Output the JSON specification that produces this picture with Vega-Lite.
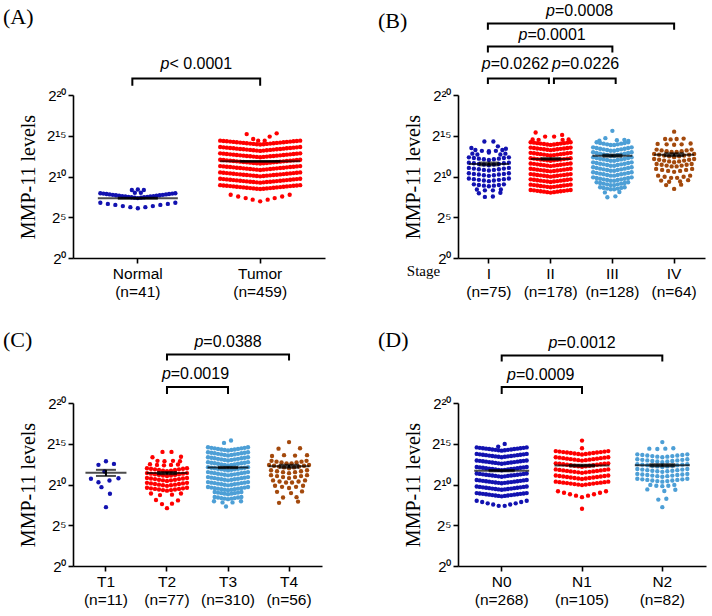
{
"$schema":"https://vega.github.io/schema/vega-lite/v6.json",
"background":"white",
"autosize":{"type":"pad"},
"padding":{"left":3,"top":2,"right":4,"bottom":4},
"bounds":"flush",
"columns":2,
"spacing":{"row":145,"column":133},
"resolve":{"scale":{"color":"independent","xOffset":"independent"}},
"datasets":{
"mA":[{"g":"N","m":7.33,"lo":7.27,"hi":7.39},{"g":"T","m":11.86,"lo":11.81,"hi":11.91}],
"bA":[{"b":1,"k":1,"g":"N","o":-1.1,"y":21.14},{"b":1,"k":2,"g":"N","o":-1.1,"y":22.03},{"b":1,"k":3,"g":"T","o":0,"y":22.03},{"b":1,"k":4,"g":"T","o":0,"y":21.14}],
"tA":[{"g":"N","o":11.7,"ty":23.2,"t":"< 0.0001"}],
"mB":[{"g":"I","m":11.54,"lo":11.37,"hi":11.71},{"g":"II","m":12.16,"lo":12.06,"hi":12.26},{"g":"III","m":12.56,"lo":12.44,"hi":12.68},{"g":"IV","m":12.68,"lo":12.51,"hi":12.85}],
"bB":[{"b":1,"k":1,"g":"I","o":-0.2,"y":21.34},{"b":1,"k":2,"g":"I","o":-0.2,"y":22.03},{"b":1,"k":3,"g":"II","o":-0.34,"y":22.03},{"b":1,"k":4,"g":"II","o":-0.34,"y":21.34},
{"b":2,"k":1,"g":"II","o":0.66,"y":21.34},{"b":2,"k":2,"g":"II","o":0.66,"y":22.03},{"b":2,"k":3,"g":"III","o":0.66,"y":22.03},{"b":2,"k":4,"g":"III","o":0.66,"y":21.34},
{"b":3,"k":1,"g":"I","o":-0.2,"y":25.2},{"b":3,"k":2,"g":"I","o":-0.2,"y":25.96},{"b":3,"k":3,"g":"III","o":0,"y":25.96},{"b":3,"k":4,"g":"III","o":0,"y":25.2},
{"b":4,"k":1,"g":"I","o":-0.2,"y":28.02},{"b":4,"k":2,"g":"I","o":-0.2,"y":28.77},{"b":4,"k":3,"g":"IV","o":0,"y":28.77},{"b":4,"k":4,"g":"IV","o":0,"y":28.02}],
"tB":[{"g":"I","o":5.3,"ty":23.2,"t":"=0.0262"},{"g":"II","o":7,"ty":23.2,"t":"=0.0226"},{"g":"II","o":0.3,"ty":26.8,"t":"=0.0001"},{"g":"II","o":5.8,"ty":29.7,"t":"=0.0008"}],
"mC":[{"g":"T1","m":11.43,"lo":11.05,"hi":11.8},{"g":"T2","m":11.4,"lo":11.27,"hi":11.53},{"g":"T3","m":12.08,"lo":12,"hi":12.16},{"g":"T4","m":12.24,"lo":12.06,"hi":12.42}],
"bC":[{"b":1,"k":1,"g":"T2","o":0,"y":21.1},{"b":1,"k":2,"g":"T2","o":0,"y":21.96},{"b":1,"k":3,"g":"T3","o":0,"y":21.96},{"b":1,"k":4,"g":"T3","o":0,"y":21.1},
{"b":2,"k":1,"g":"T2","o":0,"y":25.2},{"b":2,"k":2,"g":"T2","o":0,"y":25.95},{"b":2,"k":3,"g":"T4","o":0,"y":25.95},{"b":2,"k":4,"g":"T4","o":0,"y":25.2}],
"tC":[{"g":"T2","o":5.7,"ty":22.9,"t":"=0.0019"},{"g":"T3","o":0,"ty":26.9,"t":"=0.0388"}],
"mD":[{"g":"N0","m":11.7,"lo":11.62,"hi":11.78},{"g":"N1","m":12.32,"lo":12.22,"hi":12.42},{"g":"N2","m":12.36,"lo":12.23,"hi":12.49}],
"bD":[{"b":1,"k":1,"g":"N0","o":0,"y":21.1},{"b":1,"k":2,"g":"N0","o":0,"y":21.96},{"b":1,"k":3,"g":"N1","o":0,"y":21.96},{"b":1,"k":4,"g":"N1","o":0,"y":21.1},
{"b":2,"k":1,"g":"N0","o":0,"y":25.1},{"b":2,"k":2,"g":"N0","o":0,"y":25.83},{"b":2,"k":3,"g":"N2","o":0,"y":25.83},{"b":2,"k":4,"g":"N2","o":0,"y":25.1}],
"tD":[{"g":"N0","o":7.8,"ty":22.8,"t":"=0.0009"},{"g":"N1","o":0,"ty":26.8,"t":"=0.0012"}]
},
"concat":[
{
"width":252,"height":163,
"title":{"text":"(A)","dx":-70,"dy":-23},
"data":{"values":"g,o,y\nN,0,6.1\nN,-1.5,6.24\nN,1.5,6.24\nN,-3,6.37\nN,3,6.37\nN,-4.5,6.51\nN,4.5,6.51\nN,-6,6.64\nN,6,6.64\nN,-7.5,6.78\nN,7.5,6.78\nN,0,7.35\nN,-0.63,7.4\nN,0.63,7.4\nN,-1.25,7.45\nN,1.25,7.45\nN,-1.88,7.5\nN,1.88,7.5\nN,-2.5,7.55\nN,2.5,7.55\nN,-3.13,7.6\nN,3.13,7.6\nN,-3.75,7.65\nN,3.75,7.65\nN,-4.38,7.7\nN,4.38,7.7\nN,-5,7.75\nN,5,7.75\nN,-5.63,7.8\nN,5.63,7.8\nN,-6.25,7.85\nN,6.25,7.85\nN,-6.88,7.9\nN,6.88,7.9\nN,-7.5,7.95\nN,7.5,7.95\nN,-1.2,8.35\nN,0,8.4\nN,1.2,8.35\nN,-0.6,8\nN,0.6,8\nT,-2.7,15.2\nT,3.3,15.3\nT,-1.4,14.6\nT,-0.4,14.4\nT,0.9,14.4\nT,1.9,14.9\nT,-5.9,7.76\nT,-4.4,7.55\nT,-2.9,7.35\nT,-1.5,7.16\nT,0,6.95\nT,1.5,7.16\nT,2.9,7.35\nT,4.4,7.55\nT,5.9,7.76\nT,-8,14.4\nT,-7.33,14.36\nT,-6.67,14.32\nT,-6,14.28\nT,-5.33,14.24\nT,-4.67,14.2\nT,-4,14.16\nT,-3.33,14.12\nT,-2.67,14.08\nT,-2,14.04\nT,-1.33,14\nT,-0.67,13.96\nT,0,13.92\nT,0.67,13.96\nT,1.33,14\nT,2,14.04\nT,2.67,14.08\nT,3.33,14.12\nT,4,14.16\nT,4.67,14.2\nT,5.33,14.24\nT,6,14.28\nT,6.67,14.32\nT,7.33,14.36\nT,8,14.4\nT,-8,13.62\nT,-7.33,13.58\nT,-6.67,13.54\nT,-6,13.5\nT,-5.33,13.46\nT,-4.67,13.42\nT,-4,13.38\nT,-3.33,13.34\nT,-2.67,13.3\nT,-2,13.26\nT,-1.33,13.22\nT,-0.67,13.18\nT,0,13.14\nT,0.67,13.18\nT,1.33,13.22\nT,2,13.26\nT,2.67,13.3\nT,3.33,13.34\nT,4,13.38\nT,4.67,13.42\nT,5.33,13.46\nT,6,13.5\nT,6.67,13.54\nT,7.33,13.58\nT,8,13.62\nT,-8,12.84\nT,-7.33,12.8\nT,-6.67,12.76\nT,-6,12.72\nT,-5.33,12.68\nT,-4.67,12.64\nT,-4,12.6\nT,-3.33,12.56\nT,-2.67,12.52\nT,-2,12.48\nT,-1.33,12.44\nT,-0.67,12.4\nT,0,12.36\nT,0.67,12.4\nT,1.33,12.44\nT,2,12.48\nT,2.67,12.52\nT,3.33,12.56\nT,4,12.6\nT,4.67,12.64\nT,5.33,12.68\nT,6,12.72\nT,6.67,12.76\nT,7.33,12.8\nT,8,12.84\nT,-8,12.06\nT,-7.33,12.02\nT,-6.67,11.98\nT,-6,11.94\nT,-5.33,11.9\nT,-4.67,11.86\nT,-4,11.82\nT,-3.33,11.78\nT,-2.67,11.74\nT,-2,11.7\nT,-1.33,11.66\nT,-0.67,11.62\nT,0,11.58\nT,0.67,11.62\nT,1.33,11.66\nT,2,11.7\nT,2.67,11.74\nT,3.33,11.78\nT,4,11.82\nT,4.67,11.86\nT,5.33,11.9\nT,6,11.94\nT,6.67,11.98\nT,7.33,12.02\nT,8,12.06\nT,-8,11.28\nT,-7.33,11.24\nT,-6.67,11.2\nT,-6,11.16\nT,-5.33,11.12\nT,-4.67,11.08\nT,-4,11.04\nT,-3.33,11\nT,-2.67,10.96\nT,-2,10.92\nT,-1.33,10.88\nT,-0.67,10.84\nT,0,10.8\nT,0.67,10.84\nT,1.33,10.88\nT,2,10.92\nT,2.67,10.96\nT,3.33,11\nT,4,11.04\nT,4.67,11.08\nT,5.33,11.12\nT,6,11.16\nT,6.67,11.2\nT,7.33,11.24\nT,8,11.28\nT,-8,10.5\nT,-7.33,10.46\nT,-6.67,10.42\nT,-6,10.38\nT,-5.33,10.34\nT,-4.67,10.3\nT,-4,10.26\nT,-3.33,10.22\nT,-2.67,10.18\nT,-2,10.14\nT,-1.33,10.1\nT,-0.67,10.06\nT,0,10.02\nT,0.67,10.06\nT,1.33,10.1\nT,2,10.14\nT,2.67,10.18\nT,3.33,10.22\nT,4,10.26\nT,4.67,10.3\nT,5.33,10.34\nT,6,10.38\nT,6.67,10.42\nT,7.33,10.46\nT,8,10.5\nT,-8,9.72\nT,-7.33,9.68\nT,-6.67,9.64\nT,-6,9.6\nT,-5.33,9.56\nT,-4.67,9.52\nT,-4,9.48\nT,-3.33,9.44\nT,-2.67,9.4\nT,-2,9.36\nT,-1.33,9.32\nT,-0.67,9.28\nT,0,9.24\nT,0.67,9.28\nT,1.33,9.32\nT,2,9.36\nT,2.67,9.4\nT,3.33,9.44\nT,4,9.48\nT,4.67,9.52\nT,5.33,9.56\nT,6,9.6\nT,6.67,9.64\nT,7.33,9.68\nT,8,9.72\nT,-8,8.94\nT,-7.33,8.9\nT,-6.67,8.86\nT,-6,8.82\nT,-5.33,8.78\nT,-4.67,8.74\nT,-4,8.7\nT,-3.33,8.66\nT,-2.67,8.62\nT,-2,8.58\nT,-1.33,8.54\nT,-0.67,8.5\nT,0,8.46\nT,0.67,8.5\nT,1.33,8.54\nT,2,8.58\nT,2.67,8.62\nT,3.33,8.66\nT,4,8.7\nT,4.67,8.74\nT,5.33,8.78\nT,6,8.82\nT,6.67,8.86\nT,7.33,8.9\nT,8,8.94","format":{"type":"csv","parse":{"o":"number","y":"number"}}},
"encoding":{"x":{"field":"g","type":"nominal","scale":{"type":"band","domain":["N","T"],"paddingInner":0,"paddingOuter":0.03},"axis":{"title":null,"labelExpr":"datum.label=='N'?['Normal','(n=41)']:['Tumor','(n=459)']"}}},
"layer":[
{"data":{"name":"bA"},"mark":{"type":"line","color":"#000","strokeWidth":2,"strokeJoin":"miter"},"encoding":{"xOffset":{"field":"o","type":"quantitative"},"y":{"field":"y","type":"quantitative"},"order":{"field":"k","type":"quantitative"},"detail":{"field":"b","type":"nominal"}}},
{"data":{"name":"tA"},"mark":{"type":"text","font":"Liberation Sans","fontSize":16,"fontStyle":"italic","align":"left","baseline":"alphabetic","dx":-35.8,"color":"#000"},"encoding":{"xOffset":{"field":"o","type":"quantitative"},"y":{"field":"ty","type":"quantitative"},"text":{"value":"p"}}},
{"data":{"name":"tA"},"mark":{"type":"text","font":"Liberation Sans","fontSize":16,"align":"left","baseline":"alphabetic","dx":-26.9,"color":"#000"},"encoding":{"xOffset":{"field":"o","type":"quantitative"},"y":{"field":"ty","type":"quantitative"},"text":{"field":"t","type":"nominal"}}},
{"mark":{"type":"circle","size":19,"opacity":1},"encoding":{"xOffset":{"field":"o","type":"quantitative","scale":{"domain":[-10,10],"range":[11.17,111.17]}},"y":{"field":"y","type":"quantitative","scale":{"domain":[0,20],"nice":false,"zero":false},"axis":{"title":"MMP-11 levels","values":[0,5,10,15,20],"labelExpr":"datum.value==0?'2⁰':datum.value==5?'2⁵':datum.value==10?'2¹⁰':datum.value==15?'2¹⁵':'2²⁰'"}},"color":{"field":"g","type":"nominal","scale":{"domain":["N","T"],"range":["#1212B0","#FF0000"]},"legend":null}}},
{"data":{"name":"mA"},"mark":{"type":"rule","strokeWidth":2,"color":"#000"},"encoding":{"y":{"field":"lo","type":"quantitative"},"y2":{"field":"hi"}}},
{"data":{"name":"mA"},"mark":{"type":"tick","size":40,"thickness":2,"color":"#000"},"encoding":{"y":{"field":"lo","type":"quantitative"}}},
{"data":{"name":"mA"},"mark":{"type":"tick","size":40,"thickness":2,"color":"#000"},"encoding":{"y":{"field":"hi","type":"quantitative"}}},
{"data":{"name":"mA"},"mark":{"type":"tick","size":80,"thickness":2,"color":"#000"},"encoding":{"y":{"field":"m","type":"quantitative"}}}
]
},
{
"width":247,"height":163,
"title":{"text":"(B)","dx":-80,"dy":34},
"data":{"values":"g,o,y\nI,-0.9,14.3\nI,0.9,14.3\nI,1.8,13.7\nI,-3.5,13.5\nI,3.4,13.4\nI,-2.7,13.25\nI,-1.4,13.15\nI,0,13.1\nI,1.4,13.15\nI,2.7,13.25\nI,0,12.95\nI,-3.3,12.8\nI,-2.3,12.7\nI,2.3,12.7\nI,3.3,12.8\nI,-4,12.35\nI,-3,12.27\nI,-2,12.19\nI,-1,12.11\nI,0,12.03\nI,1,12.11\nI,2,12.19\nI,3,12.27\nI,4,12.35\nI,-4,11.7\nI,-3,11.62\nI,-2,11.54\nI,-1,11.46\nI,0,11.38\nI,1,11.46\nI,2,11.54\nI,3,11.62\nI,4,11.7\nI,-4,11.05\nI,-3,10.97\nI,-2,10.89\nI,-1,10.81\nI,0,10.73\nI,1,10.81\nI,2,10.89\nI,3,10.97\nI,4,11.05\nI,-4,10.4\nI,-3,10.32\nI,-2,10.24\nI,-1,10.16\nI,0,10.08\nI,1,10.16\nI,2,10.24\nI,3,10.32\nI,4,10.4\nI,-4,9.75\nI,-3,9.67\nI,-2,9.59\nI,-1,9.51\nI,0,9.43\nI,1,9.51\nI,2,9.59\nI,3,9.67\nI,4,9.75\nI,-3,9.04\nI,-2,8.96\nI,-1,8.88\nI,0,8.8\nI,1,8.88\nI,2,8.96\nI,3,9.04\nI,-2.4,8.4\nI,-0.8,8.3\nI,0.8,8.3\nI,2.4,8.4\nI,-2,7.95\nI,2.3,8\nI,-0.8,7.5\nI,0.8,7.55\nII,-3,15.4\nII,-1.1,14.9\nII,0.7,14.9\nII,2.3,15.1\nII,-3.6,14.55\nII,-2.4,14.5\nII,2.4,14.5\nII,3.6,14.55\nII,-4,14.2\nII,-3.33,14.15\nII,-2.67,14.09\nII,-2,14.04\nII,-1.33,13.99\nII,-0.67,13.93\nII,0,13.88\nII,0.67,13.93\nII,1.33,13.99\nII,2,14.04\nII,2.67,14.09\nII,3.33,14.15\nII,4,14.2\nII,-4,13.55\nII,-3.33,13.5\nII,-2.67,13.44\nII,-2,13.39\nII,-1.33,13.34\nII,-0.67,13.28\nII,0,13.23\nII,0.67,13.28\nII,1.33,13.34\nII,2,13.39\nII,2.67,13.44\nII,3.33,13.5\nII,4,13.55\nII,-4,12.9\nII,-3.33,12.85\nII,-2.67,12.79\nII,-2,12.74\nII,-1.33,12.69\nII,-0.67,12.63\nII,0,12.58\nII,0.67,12.63\nII,1.33,12.69\nII,2,12.74\nII,2.67,12.79\nII,3.33,12.85\nII,4,12.9\nII,-4,12.25\nII,-3.33,12.2\nII,-2.67,12.14\nII,-2,12.09\nII,-1.33,12.04\nII,-0.67,11.98\nII,0,11.93\nII,0.67,11.98\nII,1.33,12.04\nII,2,12.09\nII,2.67,12.14\nII,3.33,12.2\nII,4,12.25\nII,-4,11.6\nII,-3.33,11.55\nII,-2.67,11.49\nII,-2,11.44\nII,-1.33,11.39\nII,-0.67,11.33\nII,0,11.28\nII,0.67,11.33\nII,1.33,11.39\nII,2,11.44\nII,2.67,11.49\nII,3.33,11.55\nII,4,11.6\nII,-4,10.95\nII,-3.33,10.9\nII,-2.67,10.84\nII,-2,10.79\nII,-1.33,10.74\nII,-0.67,10.68\nII,0,10.63\nII,0.67,10.68\nII,1.33,10.74\nII,2,10.79\nII,2.67,10.84\nII,3.33,10.9\nII,4,10.95\nII,-4,10.3\nII,-3.33,10.25\nII,-2.67,10.19\nII,-2,10.14\nII,-1.33,10.09\nII,-0.67,10.03\nII,0,9.98\nII,0.67,10.03\nII,1.33,10.09\nII,2,10.14\nII,2.67,10.19\nII,3.33,10.25\nII,4,10.3\nII,-4,9.65\nII,-3.33,9.6\nII,-2.67,9.54\nII,-2,9.49\nII,-1.33,9.44\nII,-0.67,9.38\nII,0,9.33\nII,0.67,9.38\nII,1.33,9.44\nII,2,9.49\nII,2.67,9.54\nII,3.33,9.6\nII,4,9.65\nII,-4,9\nII,-3.33,8.95\nII,-2.67,8.89\nII,-2,8.84\nII,-1.33,8.79\nII,-0.67,8.73\nII,0,8.68\nII,0.67,8.73\nII,1.33,8.79\nII,2,8.84\nII,2.67,8.89\nII,3.33,8.95\nII,4,9\nII,-4,8.35\nII,-3.33,8.3\nII,-2.67,8.24\nII,-2,8.19\nII,-1.33,8.14\nII,-0.67,8.08\nII,0,8.03\nII,0.67,8.08\nII,1.33,8.14\nII,2,8.19\nII,2.67,8.24\nII,3.33,8.3\nII,4,8.35\nIII,0,15.6\nIII,-1.4,14.7\nIII,0.9,14.45\nIII,-2.6,14.4\nIII,2.4,14.5\nIII,3.2,14.35\nIII,-1.5,8.05\nIII,1.4,8.1\nIII,-1,7.45\nIII,0.6,7.57\nIII,-3.15,14.2\nIII,-2.45,14.11\nIII,-1.75,14.03\nIII,-1.05,13.95\nIII,-0.35,13.86\nIII,0.35,13.86\nIII,1.05,13.95\nIII,1.75,14.03\nIII,2.45,14.11\nIII,3.15,14.2\nIII,-3.85,13.58\nIII,-3.15,13.5\nIII,-2.45,13.41\nIII,-1.75,13.33\nIII,-1.05,13.25\nIII,-0.35,13.16\nIII,0.35,13.16\nIII,1.05,13.25\nIII,1.75,13.33\nIII,2.45,13.41\nIII,3.15,13.5\nIII,3.85,13.58\nIII,-3.85,12.97\nIII,-3.15,12.89\nIII,-2.45,12.8\nIII,-1.75,12.72\nIII,-1.05,12.64\nIII,-0.35,12.55\nIII,0.35,12.55\nIII,1.05,12.64\nIII,1.75,12.72\nIII,2.45,12.8\nIII,3.15,12.89\nIII,3.85,12.97\nIII,-3.85,12.35\nIII,-3.15,12.27\nIII,-2.45,12.18\nIII,-1.75,12.1\nIII,-1.05,12.02\nIII,-0.35,11.93\nIII,0.35,11.93\nIII,1.05,12.02\nIII,1.75,12.1\nIII,2.45,12.18\nIII,3.15,12.27\nIII,3.85,12.35\nIII,-3.85,11.74\nIII,-3.15,11.66\nIII,-2.45,11.57\nIII,-1.75,11.49\nIII,-1.05,11.41\nIII,-0.35,11.32\nIII,0.35,11.32\nIII,1.05,11.41\nIII,1.75,11.49\nIII,2.45,11.57\nIII,3.15,11.66\nIII,3.85,11.74\nIII,-3.85,11.13\nIII,-3.15,11.05\nIII,-2.45,10.96\nIII,-1.75,10.88\nIII,-1.05,10.8\nIII,-0.35,10.71\nIII,0.35,10.71\nIII,1.05,10.8\nIII,1.75,10.88\nIII,2.45,10.96\nIII,3.15,11.05\nIII,3.85,11.13\nIII,-3.85,10.52\nIII,-3.15,10.44\nIII,-2.45,10.35\nIII,-1.75,10.27\nIII,-1.05,10.19\nIII,-0.35,10.1\nIII,0.35,10.1\nIII,1.05,10.19\nIII,1.75,10.27\nIII,2.45,10.35\nIII,3.15,10.44\nIII,3.85,10.52\nIII,-3.85,9.9\nIII,-3.15,9.82\nIII,-2.45,9.73\nIII,-1.75,9.65\nIII,-1.05,9.57\nIII,-0.35,9.48\nIII,0.35,9.48\nIII,1.05,9.57\nIII,1.75,9.65\nIII,2.45,9.73\nIII,3.15,9.82\nIII,3.85,9.9\nIII,-3.15,9.29\nIII,-2.45,9.2\nIII,-1.75,9.12\nIII,-1.05,9.04\nIII,-0.35,8.95\nIII,0.35,8.95\nIII,1.05,9.04\nIII,1.75,9.12\nIII,2.45,9.2\nIII,3.15,9.29\nIII,-2.45,8.68\nIII,-1.75,8.6\nIII,-1.05,8.52\nIII,-0.35,8.43\nIII,0.35,8.43\nIII,1.05,8.52\nIII,1.75,8.6\nIII,2.45,8.68\nIV,0,15.5\nIV,-1.8,14.6\nIV,-0.7,14.55\nIV,0.5,14.6\nIV,1.9,14.65\nIV,-3.3,14\nIV,-1.5,13.95\nIV,0,13.9\nIV,1.5,13.95\nIV,3.3,14.05\nIV,-3.5,13.3\nIV,-2.5,13.2\nIV,-1.5,13.1\nIV,-0.5,13\nIV,0.5,13\nIV,1.5,13.1\nIV,2.5,13.2\nIV,3.5,13.3\nIV,-4,12.77\nIV,-3,12.67\nIV,-2,12.57\nIV,-1,12.47\nIV,0,12.37\nIV,1,12.47\nIV,2,12.57\nIV,3,12.67\nIV,4,12.77\nIV,-4,12.15\nIV,-3,12.05\nIV,-2,11.95\nIV,-1,11.85\nIV,0,11.75\nIV,1,11.85\nIV,2,11.95\nIV,3,12.05\nIV,4,12.15\nIV,-3.5,11.54\nIV,-2.5,11.44\nIV,-1.5,11.34\nIV,-0.5,11.24\nIV,0.5,11.24\nIV,1.5,11.34\nIV,2.5,11.44\nIV,3.5,11.54\nIV,-3.6,10.93\nIV,-2.4,10.81\nIV,-1.2,10.69\nIV,0,10.57\nIV,1.2,10.69\nIV,2.4,10.81\nIV,3.6,10.93\nIV,-3.2,10.1\nIV,-1.9,9.97\nIV,-0.6,9.84\nIV,0.6,9.84\nIV,1.9,9.97\nIV,3.2,10.1\nIV,-2.6,9.5\nIV,-1,9.35\nIV,1.2,9.4\nIV,2.8,9.55\nIV,-1.6,8.95\nIV,1.4,9\nIV,0,8.48","format":{"type":"csv","parse":{"o":"number","y":"number"}}},
"encoding":{"x":{"field":"g","type":"nominal","scale":{"type":"band","domain":["I","II","III","IV"],"paddingInner":0,"paddingOuter":0},"axis":{"title":"Stage","titleX":-35,"titleY":12,"titleAlign":"center","titleBaseline":"middle","titleFontSize":15,"labelExpr":"datum.label=='I'?['I','(n=75)']:datum.label=='II'?['II','(n=178)']:datum.label=='III'?['III','(n=128)']:['IV','(n=64)']"}}},
"layer":[
{"data":{"name":"bB"},"mark":{"type":"line","color":"#000","strokeWidth":2,"strokeJoin":"miter"},"encoding":{"xOffset":{"field":"o","type":"quantitative"},"y":{"field":"y","type":"quantitative"},"order":{"field":"k","type":"quantitative"},"detail":{"field":"b","type":"nominal"}}},
{"data":{"name":"tB"},"mark":{"type":"text","font":"Liberation Sans","fontSize":16,"fontStyle":"italic","align":"left","baseline":"alphabetic","dx":-33.6,"color":"#000"},"encoding":{"xOffset":{"field":"o","type":"quantitative"},"y":{"field":"ty","type":"quantitative"},"text":{"value":"p"}}},
{"data":{"name":"tB"},"mark":{"type":"text","font":"Liberation Sans","fontSize":16,"align":"left","baseline":"alphabetic","dx":-24.7,"color":"#000"},"encoding":{"xOffset":{"field":"o","type":"quantitative"},"y":{"field":"ty","type":"quantitative"},"text":{"field":"t","type":"nominal"}}},
{"mark":{"type":"circle","size":19,"opacity":1},"encoding":{"xOffset":{"field":"o","type":"quantitative","scale":{"domain":[-10,10],"range":[-19.125,80.875]}},"y":{"field":"y","type":"quantitative","scale":{"domain":[0,20],"nice":false,"zero":false},"axis":{"title":"MMP-11 levels","values":[0,5,10,15,20],"labelExpr":"datum.value==0?'2⁰':datum.value==5?'2⁵':datum.value==10?'2¹⁰':datum.value==15?'2¹⁵':'2²⁰'"}},"color":{"field":"g","type":"nominal","scale":{"domain":["I","II","III","IV"],"range":["#1212B0","#FF0000","#4D9FD6","#A3490C"]},"legend":null}}},
{"data":{"name":"mB"},"mark":{"type":"rule","strokeWidth":2,"color":"#000"},"encoding":{"y":{"field":"lo","type":"quantitative"},"y2":{"field":"hi"}}},
{"data":{"name":"mB"},"mark":{"type":"tick","size":20,"thickness":2,"color":"#000"},"encoding":{"y":{"field":"lo","type":"quantitative"}}},
{"data":{"name":"mB"},"mark":{"type":"tick","size":20,"thickness":2,"color":"#000"},"encoding":{"y":{"field":"hi","type":"quantitative"}}},
{"data":{"name":"mB"},"mark":{"type":"tick","size":40,"thickness":2,"color":"#000"},"encoding":{"y":{"field":"m","type":"quantitative"}}}
]
},
{
"width":249,"height":163,
"title":{"text":"(C)","dx":-70,"dy":22},
"data":{"values":"g,o,y\nT1,-1.5,12.41\nT1,1.6,12.53\nT1,0,12.85\nT1,-3,10.7\nT1,-1.5,10.28\nT1,0.7,10.49\nT1,2.5,10.77\nT1,-0.9,9.67\nT1,0.8,8.86\nT1,0,7.22\nT1,-0.3,11.6\nT2,-0.9,14\nT2,0.9,14\nT2,-2.9,13.35\nT2,2.8,13.4\nT2,-1.9,12.9\nT2,-0.5,12.85\nT2,1.2,12.9\nT2,2.6,12.85\nT2,-3.4,12.5\nT2,-2,12.4\nT2,-0.6,12.35\nT2,0.8,12.4\nT2,2.2,12.45\nT2,-4,12\nT2,-3.2,11.93\nT2,-2.4,11.86\nT2,-1.6,11.78\nT2,-0.8,11.71\nT2,0,11.64\nT2,0.8,11.71\nT2,1.6,11.78\nT2,2.4,11.86\nT2,3.2,11.93\nT2,4,12\nT2,-4,11.4\nT2,-3.2,11.33\nT2,-2.4,11.26\nT2,-1.6,11.18\nT2,-0.8,11.11\nT2,0,11.04\nT2,0.8,11.11\nT2,1.6,11.18\nT2,2.4,11.26\nT2,3.2,11.33\nT2,4,11.4\nT2,-4,10.8\nT2,-3.2,10.73\nT2,-2.4,10.66\nT2,-1.6,10.58\nT2,-0.8,10.51\nT2,0,10.44\nT2,0.8,10.51\nT2,1.6,10.58\nT2,2.4,10.66\nT2,3.2,10.73\nT2,4,10.8\nT2,-4,10.2\nT2,-3.2,10.13\nT2,-2.4,10.06\nT2,-1.6,9.98\nT2,-0.8,9.91\nT2,0,9.84\nT2,0.8,9.91\nT2,1.6,9.98\nT2,2.4,10.06\nT2,3.2,10.13\nT2,4,10.2\nT2,-4,9.6\nT2,-3.2,9.53\nT2,-2.4,9.46\nT2,-1.6,9.38\nT2,-0.8,9.31\nT2,0,9.24\nT2,0.8,9.31\nT2,1.6,9.38\nT2,2.4,9.46\nT2,3.2,9.53\nT2,4,9.6\nT2,-3.2,8.9\nT2,-1.4,8.7\nT2,1,8.75\nT2,2.8,8.9\nT2,-2.2,8.1\nT2,2.2,8.05\nT2,-1,7.6\nT2,1,7.65\nT2,0,7.1\nT3,-0.8,15.1\nT3,0.6,15.4\nT3,-2.8,7.95\nT3,-1.1,7.8\nT3,0.9,7.8\nT3,2.6,7.95\nT3,-0.4,7.3\nT3,-4,14.57\nT3,-3.33,14.5\nT3,-2.67,14.44\nT3,-2,14.37\nT3,-1.33,14.3\nT3,-0.67,14.24\nT3,0,14.17\nT3,0.67,14.24\nT3,1.33,14.3\nT3,2,14.37\nT3,2.67,14.44\nT3,3.33,14.5\nT3,4,14.57\nT3,-4,13.96\nT3,-3.33,13.89\nT3,-2.67,13.83\nT3,-2,13.76\nT3,-1.33,13.69\nT3,-0.67,13.63\nT3,0,13.56\nT3,0.67,13.63\nT3,1.33,13.69\nT3,2,13.76\nT3,2.67,13.83\nT3,3.33,13.89\nT3,4,13.96\nT3,-4,13.35\nT3,-3.33,13.28\nT3,-2.67,13.22\nT3,-2,13.15\nT3,-1.33,13.08\nT3,-0.67,13.02\nT3,0,12.95\nT3,0.67,13.02\nT3,1.33,13.08\nT3,2,13.15\nT3,2.67,13.22\nT3,3.33,13.28\nT3,4,13.35\nT3,-4,12.74\nT3,-3.33,12.67\nT3,-2.67,12.61\nT3,-2,12.54\nT3,-1.33,12.47\nT3,-0.67,12.41\nT3,0,12.34\nT3,0.67,12.41\nT3,1.33,12.47\nT3,2,12.54\nT3,2.67,12.61\nT3,3.33,12.67\nT3,4,12.74\nT3,-4,12.13\nT3,-3.33,12.06\nT3,-2.67,12\nT3,-2,11.93\nT3,-1.33,11.86\nT3,-0.67,11.8\nT3,0,11.73\nT3,0.67,11.8\nT3,1.33,11.86\nT3,2,11.93\nT3,2.67,12\nT3,3.33,12.06\nT3,4,12.13\nT3,-4,11.52\nT3,-3.33,11.45\nT3,-2.67,11.39\nT3,-2,11.32\nT3,-1.33,11.25\nT3,-0.67,11.19\nT3,0,11.12\nT3,0.67,11.19\nT3,1.33,11.25\nT3,2,11.32\nT3,2.67,11.39\nT3,3.33,11.45\nT3,4,11.52\nT3,-4,10.91\nT3,-3.33,10.84\nT3,-2.67,10.78\nT3,-2,10.71\nT3,-1.33,10.64\nT3,-0.67,10.58\nT3,0,10.51\nT3,0.67,10.58\nT3,1.33,10.64\nT3,2,10.71\nT3,2.67,10.78\nT3,3.33,10.84\nT3,4,10.91\nT3,-4,10.3\nT3,-3.33,10.23\nT3,-2.67,10.17\nT3,-2,10.1\nT3,-1.33,10.03\nT3,-0.67,9.97\nT3,0,9.9\nT3,0.67,9.97\nT3,1.33,10.03\nT3,2,10.1\nT3,2.67,10.17\nT3,3.33,10.23\nT3,4,10.3\nT3,-4,9.69\nT3,-3.33,9.62\nT3,-2.67,9.56\nT3,-2,9.49\nT3,-1.33,9.42\nT3,-0.67,9.36\nT3,0,9.29\nT3,0.67,9.36\nT3,1.33,9.42\nT3,2,9.49\nT3,2.67,9.56\nT3,3.33,9.62\nT3,4,9.69\nT3,-2.67,9.08\nT3,-2,9.01\nT3,-1.33,8.94\nT3,-0.67,8.88\nT3,0,8.81\nT3,0.67,8.88\nT3,1.33,8.94\nT3,2,9.01\nT3,2.67,9.08\nT3,-2.67,8.47\nT3,-2,8.4\nT3,-1.33,8.33\nT3,-0.67,8.27\nT3,0,8.2\nT3,0.67,8.27\nT3,1.33,8.33\nT3,2,8.4\nT3,2.67,8.47\nT4,0,15.2\nT4,-2.1,14.4\nT4,2.2,14.45\nT4,-3.4,13.5\nT4,-1,13.6\nT4,1.2,13.55\nT4,3.6,13.6\nT4,-3.5,12.9\nT4,-2.5,12.8\nT4,-1.5,12.7\nT4,-0.5,12.6\nT4,0.5,12.6\nT4,1.5,12.7\nT4,2.5,12.8\nT4,3.5,12.9\nT4,-4,12.4\nT4,-3,12.3\nT4,-2,12.2\nT4,-1,12.1\nT4,0,12\nT4,1,12.1\nT4,2,12.2\nT4,3,12.3\nT4,4,12.4\nT4,-3.6,11.75\nT4,-2.4,11.63\nT4,-1.2,11.51\nT4,0,11.39\nT4,1.2,11.51\nT4,2.4,11.63\nT4,3.6,11.75\nT4,-3.6,11.15\nT4,-2.4,11.03\nT4,-1.2,10.91\nT4,0,10.79\nT4,1.2,10.91\nT4,2.4,11.03\nT4,3.6,11.15\nT4,-3.2,10.5\nT4,-1.9,10.37\nT4,-0.6,10.24\nT4,0.6,10.24\nT4,1.9,10.37\nT4,3.2,10.5\nT4,-2.8,9.85\nT4,-1.4,9.71\nT4,0,9.57\nT4,1.4,9.71\nT4,2.8,9.85\nT4,-2.4,9.1\nT4,0.4,8.95\nT4,2.6,9.15\nT4,-1.2,8.4\nT4,1.5,8.45\nT4,-2,7.75\nT4,1.8,7.9","format":{"type":"csv","parse":{"o":"number","y":"number"}}},
"encoding":{"x":{"field":"g","type":"nominal","scale":{"type":"band","domain":["T1","T2","T3","T4"],"paddingInner":0,"paddingOuter":0.04},"axis":{"title":null,"labelExpr":"datum.label=='T1'?['T1','(n=11)']:datum.label=='T2'?['T2','(n=77)']:datum.label=='T3'?['T3','(n=310)']:['T4','(n=56)']"}}},
"layer":[
{"data":{"name":"bC"},"mark":{"type":"line","color":"#000","strokeWidth":2,"strokeJoin":"miter"},"encoding":{"xOffset":{"field":"o","type":"quantitative"},"y":{"field":"y","type":"quantitative"},"order":{"field":"k","type":"quantitative"},"detail":{"field":"b","type":"nominal"}}},
{"data":{"name":"tC"},"mark":{"type":"text","font":"Liberation Sans","fontSize":16,"fontStyle":"italic","align":"left","baseline":"alphabetic","dx":-33.6,"color":"#000"},"encoding":{"xOffset":{"field":"o","type":"quantitative"},"y":{"field":"ty","type":"quantitative"},"text":{"value":"p"}}},
{"data":{"name":"tC"},"mark":{"type":"text","font":"Liberation Sans","fontSize":16,"align":"left","baseline":"alphabetic","dx":-24.7,"color":"#000"},"encoding":{"xOffset":{"field":"o","type":"quantitative"},"y":{"field":"ty","type":"quantitative"},"text":{"field":"t","type":"nominal"}}},
{"mark":{"type":"circle","size":19,"opacity":1},"encoding":{"xOffset":{"field":"o","type":"quantitative","scale":{"domain":[-10,10],"range":[-19.49,80.51]}},"y":{"field":"y","type":"quantitative","scale":{"domain":[0,20],"nice":false,"zero":false},"axis":{"title":"MMP-11 levels","values":[0,5,10,15,20],"labelExpr":"datum.value==0?'2⁰':datum.value==5?'2⁵':datum.value==10?'2¹⁰':datum.value==15?'2¹⁵':'2²⁰'"}},"color":{"field":"g","type":"nominal","scale":{"domain":["T1","T2","T3","T4"],"range":["#1212B0","#FF0000","#4D9FD6","#A3490C"]},"legend":null}}},
{"data":{"name":"mC"},"mark":{"type":"rule","strokeWidth":2,"color":"#000"},"encoding":{"y":{"field":"lo","type":"quantitative"},"y2":{"field":"hi"}}},
{"data":{"name":"mC"},"mark":{"type":"tick","size":20,"thickness":2,"color":"#000"},"encoding":{"y":{"field":"lo","type":"quantitative"}}},
{"data":{"name":"mC"},"mark":{"type":"tick","size":20,"thickness":2,"color":"#000"},"encoding":{"y":{"field":"hi","type":"quantitative"}}},
{"data":{"name":"mC"},"mark":{"type":"tick","size":41,"thickness":2,"color":"#000"},"encoding":{"y":{"field":"m","type":"quantitative"}}}
]
},
{
"width":248,"height":163,
"title":{"text":"(D)","dx":-80,"dy":21},
"data":{"values":"g,o,y\nN0,-0.7,14.65\nN0,0.6,14.98\nN0,-5,8\nN0,-3.9,7.85\nN0,-2.8,7.69\nN0,-1.7,7.54\nN0,-0.6,7.38\nN0,0.6,7.38\nN0,1.7,7.54\nN0,2.8,7.69\nN0,3.9,7.85\nN0,5,8\nN0,-5,14.55\nN0,-4.38,14.5\nN0,-3.75,14.45\nN0,-3.13,14.4\nN0,-2.5,14.35\nN0,-1.88,14.3\nN0,-1.25,14.25\nN0,-0.63,14.2\nN0,0,14.15\nN0,0.63,14.2\nN0,1.25,14.25\nN0,1.88,14.3\nN0,2.5,14.35\nN0,3.13,14.4\nN0,3.75,14.45\nN0,4.38,14.5\nN0,5,14.55\nN0,-5,13.75\nN0,-4.38,13.7\nN0,-3.75,13.65\nN0,-3.13,13.6\nN0,-2.5,13.55\nN0,-1.88,13.5\nN0,-1.25,13.45\nN0,-0.63,13.4\nN0,0,13.35\nN0,0.63,13.4\nN0,1.25,13.45\nN0,1.88,13.5\nN0,2.5,13.55\nN0,3.13,13.6\nN0,3.75,13.65\nN0,4.38,13.7\nN0,5,13.75\nN0,-5,12.95\nN0,-4.38,12.9\nN0,-3.75,12.85\nN0,-3.13,12.8\nN0,-2.5,12.75\nN0,-1.88,12.7\nN0,-1.25,12.65\nN0,-0.63,12.6\nN0,0,12.55\nN0,0.63,12.6\nN0,1.25,12.65\nN0,1.88,12.7\nN0,2.5,12.75\nN0,3.13,12.8\nN0,3.75,12.85\nN0,4.38,12.9\nN0,5,12.95\nN0,-5,12.15\nN0,-4.38,12.1\nN0,-3.75,12.05\nN0,-3.13,12\nN0,-2.5,11.95\nN0,-1.88,11.9\nN0,-1.25,11.85\nN0,-0.63,11.8\nN0,0,11.75\nN0,0.63,11.8\nN0,1.25,11.85\nN0,1.88,11.9\nN0,2.5,11.95\nN0,3.13,12\nN0,3.75,12.05\nN0,4.38,12.1\nN0,5,12.15\nN0,-5,11.35\nN0,-4.38,11.3\nN0,-3.75,11.25\nN0,-3.13,11.2\nN0,-2.5,11.15\nN0,-1.88,11.1\nN0,-1.25,11.05\nN0,-0.63,11\nN0,0,10.95\nN0,0.63,11\nN0,1.25,11.05\nN0,1.88,11.1\nN0,2.5,11.15\nN0,3.13,11.2\nN0,3.75,11.25\nN0,4.38,11.3\nN0,5,11.35\nN0,-5,10.55\nN0,-4.38,10.5\nN0,-3.75,10.45\nN0,-3.13,10.4\nN0,-2.5,10.35\nN0,-1.88,10.3\nN0,-1.25,10.25\nN0,-0.63,10.2\nN0,0,10.15\nN0,0.63,10.2\nN0,1.25,10.25\nN0,1.88,10.3\nN0,2.5,10.35\nN0,3.13,10.4\nN0,3.75,10.45\nN0,4.38,10.5\nN0,5,10.55\nN0,-5,9.75\nN0,-4.38,9.7\nN0,-3.75,9.65\nN0,-3.13,9.6\nN0,-2.5,9.55\nN0,-1.88,9.5\nN0,-1.25,9.45\nN0,-0.63,9.4\nN0,0,9.35\nN0,0.63,9.4\nN0,1.25,9.45\nN0,1.88,9.5\nN0,2.5,9.55\nN0,3.13,9.6\nN0,3.75,9.65\nN0,4.38,9.7\nN0,5,9.75\nN0,-5,8.95\nN0,-4.38,8.9\nN0,-3.75,8.85\nN0,-3.13,8.8\nN0,-2.5,8.75\nN0,-1.88,8.7\nN0,-1.25,8.65\nN0,-0.63,8.6\nN0,0,8.55\nN0,0.63,8.6\nN0,1.25,8.65\nN0,1.88,8.7\nN0,2.5,8.75\nN0,3.13,8.8\nN0,3.75,8.85\nN0,4.38,8.9\nN0,5,8.95\nN1,0,15.39\nN1,0,14.45\nN1,0,7.02\nN1,-4.8,9.17\nN1,-3.6,8.99\nN1,-2.4,8.81\nN1,-1.2,8.63\nN1,0,8.45\nN1,1.2,8.63\nN1,2.4,8.81\nN1,3.6,8.99\nN1,4.8,9.17\nN1,-5.25,14.1\nN1,-4.5,14.04\nN1,-3.75,13.98\nN1,-3,13.92\nN1,-2.25,13.86\nN1,-1.5,13.8\nN1,-0.75,13.74\nN1,0,13.68\nN1,0.75,13.74\nN1,1.5,13.8\nN1,2.25,13.86\nN1,3,13.92\nN1,3.75,13.98\nN1,4.5,14.04\nN1,5.25,14.1\nN1,-5.25,13.35\nN1,-4.5,13.29\nN1,-3.75,13.23\nN1,-3,13.17\nN1,-2.25,13.11\nN1,-1.5,13.05\nN1,-0.75,12.99\nN1,0,12.93\nN1,0.75,12.99\nN1,1.5,13.05\nN1,2.25,13.11\nN1,3,13.17\nN1,3.75,13.23\nN1,4.5,13.29\nN1,5.25,13.35\nN1,-5.25,12.6\nN1,-4.5,12.54\nN1,-3.75,12.48\nN1,-3,12.42\nN1,-2.25,12.36\nN1,-1.5,12.3\nN1,-0.75,12.24\nN1,0,12.18\nN1,0.75,12.24\nN1,1.5,12.3\nN1,2.25,12.36\nN1,3,12.42\nN1,3.75,12.48\nN1,4.5,12.54\nN1,5.25,12.6\nN1,-5.25,11.85\nN1,-4.5,11.79\nN1,-3.75,11.73\nN1,-3,11.67\nN1,-2.25,11.61\nN1,-1.5,11.55\nN1,-0.75,11.49\nN1,0,11.43\nN1,0.75,11.49\nN1,1.5,11.55\nN1,2.25,11.61\nN1,3,11.67\nN1,3.75,11.73\nN1,4.5,11.79\nN1,5.25,11.85\nN1,-5.25,11.1\nN1,-4.5,11.04\nN1,-3.75,10.98\nN1,-3,10.92\nN1,-2.25,10.86\nN1,-1.5,10.8\nN1,-0.75,10.74\nN1,0,10.68\nN1,0.75,10.74\nN1,1.5,10.8\nN1,2.25,10.86\nN1,3,10.92\nN1,3.75,10.98\nN1,4.5,11.04\nN1,5.25,11.1\nN1,-5.25,10.35\nN1,-4.5,10.29\nN1,-3.75,10.23\nN1,-3,10.17\nN1,-2.25,10.11\nN1,-1.5,10.05\nN1,-0.75,9.99\nN1,0,9.93\nN1,0.75,9.99\nN1,1.5,10.05\nN1,2.25,10.11\nN1,3,10.17\nN1,3.75,10.23\nN1,4.5,10.29\nN1,5.25,10.35\nN2,0,15.2\nN2,-2.6,14.4\nN2,-1,14.35\nN2,0.6,14.4\nN2,2.2,14.45\nN2,-5,13.7\nN2,-4,13.63\nN2,-3,13.56\nN2,-2,13.49\nN2,-1,13.42\nN2,0,13.35\nN2,1,13.42\nN2,2,13.49\nN2,3,13.56\nN2,4,13.63\nN2,5,13.7\nN2,-5,13.1\nN2,-4,13.03\nN2,-3,12.96\nN2,-2,12.89\nN2,-1,12.82\nN2,0,12.75\nN2,1,12.82\nN2,2,12.89\nN2,3,12.96\nN2,4,13.03\nN2,5,13.1\nN2,-5,12.5\nN2,-4,12.43\nN2,-3,12.36\nN2,-2,12.29\nN2,-1,12.22\nN2,0,12.15\nN2,1,12.22\nN2,2,12.29\nN2,3,12.36\nN2,4,12.43\nN2,5,12.5\nN2,-5,11.9\nN2,-4,11.83\nN2,-3,11.76\nN2,-2,11.69\nN2,-1,11.62\nN2,0,11.55\nN2,1,11.62\nN2,2,11.69\nN2,3,11.76\nN2,4,11.83\nN2,5,11.9\nN2,-5,11.3\nN2,-4,11.23\nN2,-3,11.16\nN2,-2,11.09\nN2,-1,11.02\nN2,0,10.95\nN2,1,11.02\nN2,2,11.09\nN2,3,11.16\nN2,4,11.23\nN2,5,11.3\nN2,-5,10.7\nN2,-4,10.63\nN2,-3,10.56\nN2,-2,10.49\nN2,-1,10.42\nN2,0,10.35\nN2,1,10.42\nN2,2,10.49\nN2,3,10.56\nN2,4,10.63\nN2,5,10.7\nN2,-2.4,9.95\nN2,-1.2,9.85\nN2,0,9.8\nN2,1.2,9.85\nN2,2.4,9.95\nN2,-3,9.4\nN2,2.6,9.35\nN2,0.4,9.2\nN2,-0.8,8.15\nN2,0.8,8.25\nN2,0,7.22","format":{"type":"csv","parse":{"o":"number","y":"number"}}},
"encoding":{"x":{"field":"g","type":"nominal","scale":{"type":"band","domain":["N0","N1","N2"],"paddingInner":0,"paddingOuter":0.044},"axis":{"title":null,"labelExpr":"datum.label=='N0'?['N0','(n=268)']:datum.label=='N1'?['N1','(n=105)']:['N2','(n=82)']"}}},
"layer":[
{"data":{"name":"bD"},"mark":{"type":"line","color":"#000","strokeWidth":2,"strokeJoin":"miter"},"encoding":{"xOffset":{"field":"o","type":"quantitative"},"y":{"field":"y","type":"quantitative"},"order":{"field":"k","type":"quantitative"},"detail":{"field":"b","type":"nominal"}}},
{"data":{"name":"tD"},"mark":{"type":"text","font":"Liberation Sans","fontSize":16,"fontStyle":"italic","align":"left","baseline":"alphabetic","dx":-33.6,"color":"#000"},"encoding":{"xOffset":{"field":"o","type":"quantitative"},"y":{"field":"ty","type":"quantitative"},"text":{"value":"p"}}},
{"data":{"name":"tD"},"mark":{"type":"text","font":"Liberation Sans","fontSize":16,"align":"left","baseline":"alphabetic","dx":-24.7,"color":"#000"},"encoding":{"xOffset":{"field":"o","type":"quantitative"},"y":{"field":"ty","type":"quantitative"},"text":{"field":"t","type":"nominal"}}},
{"mark":{"type":"circle","size":19,"opacity":1},"encoding":{"xOffset":{"field":"o","type":"quantitative","scale":{"domain":[-10,10],"range":[-9.84,90.16]}},"y":{"field":"y","type":"quantitative","scale":{"domain":[0,20],"nice":false,"zero":false},"axis":{"title":"MMP-11 levels","values":[0,5,10,15,20],"labelExpr":"datum.value==0?'2⁰':datum.value==5?'2⁵':datum.value==10?'2¹⁰':datum.value==15?'2¹⁵':'2²⁰'"}},"color":{"field":"g","type":"nominal","scale":{"domain":["N0","N1","N2"],"range":["#1212B0","#FF0000","#4D9FD6"]},"legend":null}}},
{"data":{"name":"mD"},"mark":{"type":"rule","strokeWidth":2,"color":"#000"},"encoding":{"y":{"field":"lo","type":"quantitative"},"y2":{"field":"hi"}}},
{"data":{"name":"mD"},"mark":{"type":"tick","size":26,"thickness":2,"color":"#000"},"encoding":{"y":{"field":"lo","type":"quantitative"}}},
{"data":{"name":"mD"},"mark":{"type":"tick","size":26,"thickness":2,"color":"#000"},"encoding":{"y":{"field":"hi","type":"quantitative"}}},
{"data":{"name":"mD"},"mark":{"type":"tick","size":55,"thickness":2,"color":"#000"},"encoding":{"y":{"field":"m","type":"quantitative"}}}
]
}
],
"config":{
"view":{"stroke":null},
"axis":{"domainColor":"#000","domainWidth":1.6,"tickColor":"#000","tickWidth":1.6,"tickSize":5,"labelColor":"#000","labelFont":"Liberation Sans","labelFontSize":15,"grid":false,"titleFont":"Liberation Serif","titleFontSize":20,"titleFontWeight":"normal","titleColor":"#000","titlePadding":8},
"axisX":{"labelAngle":0,"labelFontSize":15.5,"labelLineHeight":18,"labelPadding":3,"bandPosition":0.5},
"title":{"anchor":"start","frame":"group","font":"Liberation Serif","fontSize":22,"fontWeight":"normal","color":"#000","offset":0}
}
}
